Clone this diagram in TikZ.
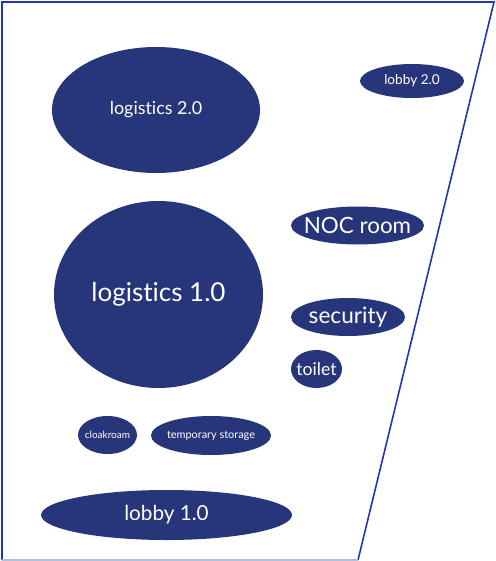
\documentclass[tikz,border=0pt]{standalone}
\usepackage{fontspec}
\setmainfont{Lato}[Ligatures=NoCommon]
\usetikzlibrary{shapes.geometric}
\definecolor{navy}{HTML}{27367A}
\definecolor{frameblue}{HTML}{2236B0}
\definecolor{lightblue}{HTML}{AFC0E6}
\newcommand{\roomnode}[7]{%
  \fill[navy] (#2,#3) ellipse [x radius=#4, y radius=#5];
  \node[roomlabel,font=\fontsize{#6}{#6}\selectfont] (#1) at (#2,#3) {#7};}
\begin{document}
\begin{tikzpicture}[x=1pt,y=-1pt,
  roomlabel/.style={text=white,inner sep=0pt}]
\useasboundingbox (0,0) rectangle (495,561);
\coordinate (tl) at (2,2);
\coordinate (tr) at (494,2);
\coordinate (br) at (358,560);
\coordinate (bl) at (2,560);
\draw[frameblue,line width=1.6pt] (bl) -- (tl) -- (tr) -- (br);
\draw[lightblue,line width=1.2pt] (bl) -- (br);
\roomnode{log2}{156}{110}{104}{63}{17.9}{logistics 2.0}
\roomnode{lob2}{412}{81}{52}{17}{13.6}{lobby 2.0}
\roomnode{noc}{357.5}{225.5}{66.5}{19}{22.4}{NOC room}
\roomnode{log1}{158.5}{294.5}{104.5}{93.5}{26}{logistics 1.0}
\roomnode{sec}{348}{317}{57}{19}{22.6}{security}
\roomnode{toil}{316.5}{369}{25.5}{19}{17.6}{toilet}
\roomnode{cloak}{107.5}{435}{29.5}{19}{10}{cloakroam}
\roomnode{temp}{211}{435.5}{60}{19.5}{10.9}{temporary storage}
\roomnode{lob1}{166.5}{515}{125.5}{25}{20.7}{lobby 1.0}
\end{tikzpicture}
\end{document}
